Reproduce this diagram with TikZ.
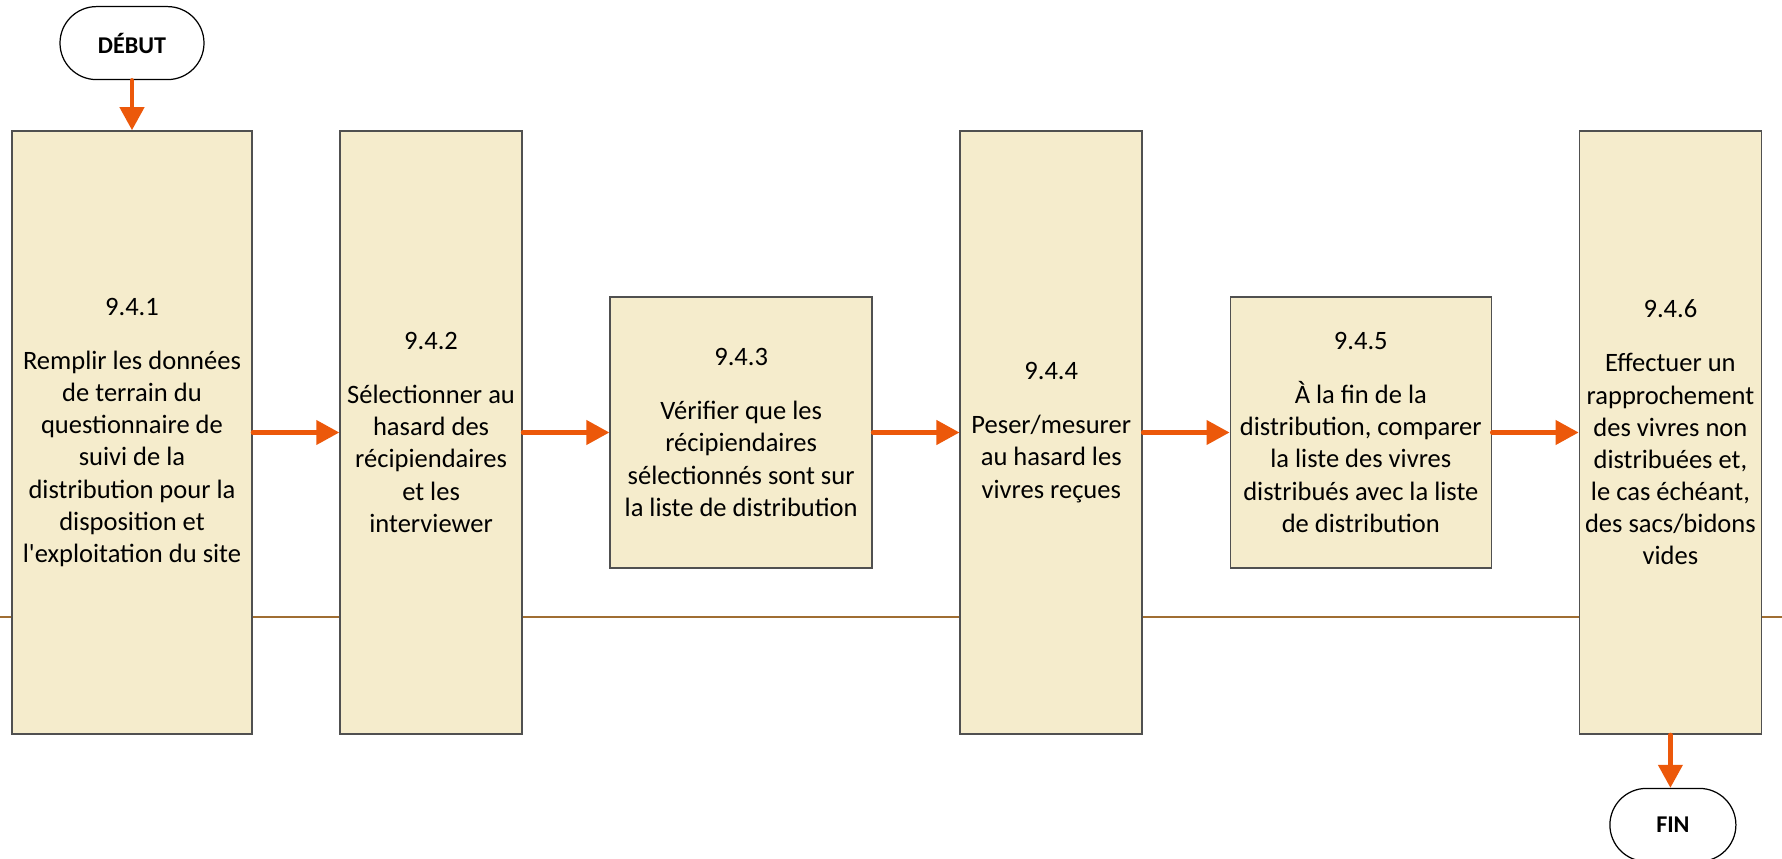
\documentclass[tikz,border=0pt]{standalone}
\usepackage{fontspec}
\setmainfont{Carlito}
\usetikzlibrary{positioning,arrows.meta}

\definecolor{boxfill}{RGB}{245,236,204}
\definecolor{boxline}{RGB}{80,80,80}
\definecolor{flowcol}{RGB}{236,88,10}
\definecolor{laneline}{RGB}{160,110,50}

\begin{document}
\begin{tikzpicture}[
	node distance=1.73cm,
	stepbox/.style={draw=boxline, line width=0.9pt, fill=boxfill, align=center, inner sep=2pt, font=\fontsize{15.1}{18.3}\selectfont},
	tallbox/.style={stepbox, minimum height=12.06cm},
	shortbox/.style={stepbox, minimum height=5.42cm},
	terminal/.style={draw, line width=0.7pt, fill=white, rounded corners=0.73cm, minimum height=1.46cm, font=\fontsize{13.7}{15}\selectfont\bfseries},
	flow/.style={draw=flowcol, line width=2.4pt, line cap=round, -{Triangle[length=0.46cm,width=0.48cm]}}
	]
	\useasboundingbox (0,0) rectangle (35.64,17.16);
	
	%lane separator
	\draw[laneline, line width=1.1pt] (0,4.82)--(35.64,4.82);
	
	%steps
	\node[tallbox, minimum width=4.8cm] (s1) at (2.64,8.51) {9.4.1\\[12.4pt]Remplir les données\\de terrain du\\questionnaire de\\suivi de la\\distribution pour la\\disposition et\\l\textquotesingle exploitation du site};
	\node[tallbox, minimum width=3.64cm, right=of s1] (s2) {9.4.2\\[12.4pt]Sélectionner au\\hasard des\\récipiendaires\\et les\\interviewer};
	\node[shortbox, minimum width=5.24cm, right=of s2] (s3) {9.4.3\\[12.4pt]Vérifier que les\\récipiendaires\\sélectionnés sont sur\\la liste de distribution};
	\node[tallbox, minimum width=3.64cm, right=of s3] (s4) {9.4.4\\[12.4pt]Peser/mesurer\\au hasard les\\vivres reçues};
	\node[shortbox, minimum width=5.22cm, right=of s4] (s5) {9.4.5\\[12.4pt]À la fin de la\\distribution, comparer\\la liste des vivres\\distribués avec la liste\\de distribution};
	\node[tallbox, minimum width=3.64cm, right=of s5] (s6) {9.4.6\\[12.4pt]Effectuer un\\rapprochement\\des vivres non\\distribuées et,\\le cas échéant,\\des sacs/bidons\\vides};
	
	%start and end
	\node[terminal, minimum width=2.88cm, above=1cm of s1] (debut) {DÉBUT};
	\node[terminal, minimum width=2.52cm, below=1.06cm of s6, xshift=0.05cm] (fin) {FIN};
	
	%arrows
	\draw[flow] (debut)--(s1);
	\draw[flow] (s1)--(s2);
	\draw[flow] (s2)--(s3);
	\draw[flow] (s3)--(s4);
	\draw[flow] (s4)--(s5);
	\draw[flow] (s5)--(s6);
	\draw[flow] (s6.south)--(s6.south|-fin.north);
\end{tikzpicture}
\end{document}
